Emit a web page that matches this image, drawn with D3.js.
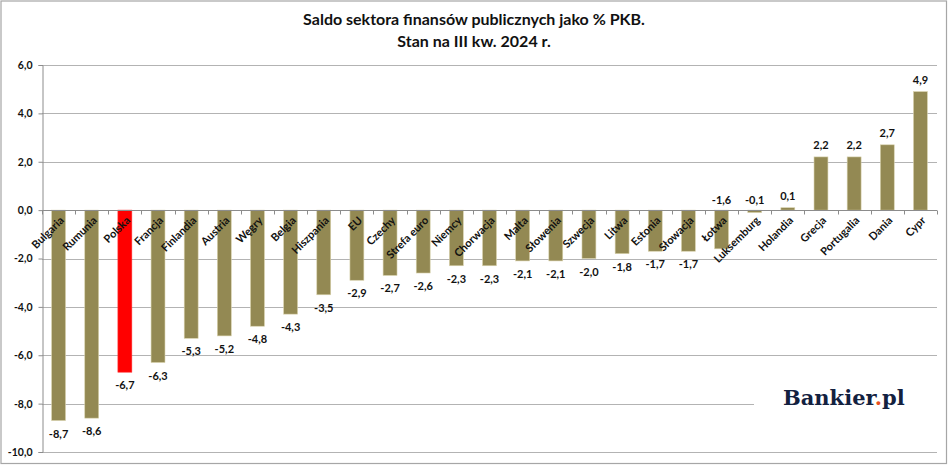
<!DOCTYPE html>
<html>
<head>
<meta charset="utf-8">
<script src="https://cdn.jsdelivr.net/npm/d3@7"></script>
<style>
  body { margin: 0; background: #fff; }
  svg { display: block; font-family: Lato, "Open Sans", sans-serif; }
</style>
</head>
<body>
<svg id="chart" width="948" height="465"></svg>
<script>
// kraje i saldo (% PKB)
const countries = ["Bulgaria", "Rumunia", "Polska", "Francja", "Finlandia", "Austria", "Węgry", "Belgia",
  "Hiszpania", "EU", "Czechy", "Strefa euro", "Niemcy", "Chorwacja", "Malta", "Słowenia", "Szwecja",
  "Litwa", "Estonia", "Słowacja", "Łotwa", "Luksemburg", "Holandia", "Grecja", "Portugalia", "Dania", "Cypr"];
const balance = [-8.7, -8.6, -6.7, -6.3, -5.3, -5.2, -4.8, -4.3, -3.5, -2.9, -2.7, -2.6, -2.3, -2.3,
  -2.1, -2.1, -2.0, -1.8, -1.7, -1.7, -1.6, -0.1, 0.1, 2.2, 2.2, 2.7, 4.9];
const yTicks = [6, 4, 2, 0, -2, -4, -6, -8, -10];
const titleLines = ["Saldo sektora finansów publicznych jako % PKB.", "Stan na III kw. 2024 r."];

const highlight = "Polska";
const labelAbove = new Set(["Łotwa", "Luksemburg"]); // etykiety przesuniete nad os

const data = countries.map((c, i) => ({ name: c, value: balance[i] }));
const fmt = v => d3.format(".1f")(v).replace(".", ",").replace("−", "-");

const svg = d3.select("#chart");
const W = 948, H = 465;
const plotL = 42, plotR = 937, plotT = 65, plotB = 452;
const ink = "#111";

// ramka
svg.append("rect")
  .attr("x", 1).attr("y", 1).attr("width", W - 2.5).attr("height", H - 2.5)
  .attr("fill", "#fff").attr("stroke", "#a6a6a6").attr("stroke-width", 1.2);

// tytul
svg.append("g").selectAll("text").data(titleLines).join("text")
  .attr("x", 474).attr("y", (d, i) => 25 + i * 22)
  .attr("text-anchor", "middle")
  .attr("font-size", 16).attr("font-weight", 700).attr("fill", ink)
  .text(d => d);

const x = d3.scaleBand().domain(countries).range([plotL, plotR])
  .paddingInner(0.58).paddingOuter(0.29);
const y = d3.scaleLinear().domain([-10, 6]).range([plotB, plotT]);

// siatka
svg.append("g").selectAll("line").data(yTicks.filter(t => t !== 0)).join("line")
  .attr("x1", plotL).attr("x2", plotR)
  .attr("y1", d => Math.round(y(d)) + 0.5).attr("y2", d => Math.round(y(d)) + 0.5)
  .attr("stroke", "#b3b3b3").attr("stroke-width", 1);

// os Y
const yAxis = svg.append("g")
  .attr("transform", `translate(${plotL + 0.5},0)`)
  .call(d3.axisLeft(y).tickValues(yTicks).tickSize(4).tickPadding(6).tickFormat(fmt));
yAxis.select(".domain").attr("stroke", "#8c8c8c");
yAxis.selectAll(".tick line").attr("stroke", "#8c8c8c");
yAxis.selectAll(".tick text")
  .attr("font-family", "Lato, sans-serif").attr("font-size", 10.5).attr("font-weight", 700).attr("fill", ink);

// slupki
svg.append("g").selectAll("rect").data(data).join("rect")
  .attr("x", d => x(d.name))
  .attr("width", x.bandwidth())
  .attr("y", d => y(Math.max(0, d.value)))
  .attr("height", d => Math.abs(y(d.value) - y(0)))
  .attr("fill", d => d.name === highlight ? "#ff0000" : "#938953")
  .attr("stroke", d => d.name === highlight ? "#ff3030" : "#d9d2ad")
  .attr("stroke-width", 0.6);

// os X na zerze z podzialka
const y0 = Math.round(y(0)) + 0.5;
svg.append("line")
  .attr("x1", plotL).attr("x2", plotR).attr("y1", y0).attr("y2", y0)
  .attr("stroke", "#8c8c8c");
const bounds = d3.range(countries.length + 1).map(i => plotL + i * x.step());
svg.append("g").selectAll("line").data(bounds).join("line")
  .attr("x1", d => Math.round(d) + 0.5).attr("x2", d => Math.round(d) + 0.5)
  .attr("y1", y0).attr("y2", y0 + 4)
  .attr("stroke", "#8c8c8c");

// etykiety wartosci
svg.append("g").selectAll("text").data(data).join("text")
  .attr("x", d => x(d.name) + x.bandwidth() / 2)
  .attr("y", d => {
    if (labelAbove.has(d.name)) return y(0) - 6;
    return d.value >= 0 ? y(d.value) - 8 : y(d.value) + 17;
  })
  .attr("text-anchor", "middle")
  .attr("font-size", 11).attr("font-weight", 700).attr("fill", ink)
  .text(d => fmt(d.value));

// etykiety kategorii
svg.append("g").selectAll("text").data(data).join("text")
  .attr("transform", d => `translate(${x(d.name) + x.bandwidth() / 2 + 6},${y(0) + 11}) rotate(-45)`)
  .attr("text-anchor", "end")
  .attr("font-size", 11).attr("font-weight", 700).attr("fill", ink)
  .text(d => d.name);

// logo
svg.append("rect").attr("x", 754).attr("y", 386).attr("width", 183).attr("height", 32).attr("fill", "#fff");
const logo = svg.append("text")
  .attr("x", 783).attr("y", 405)
  .attr("font-family", "'DejaVu Serif', 'Liberation Serif', serif")
  .attr("font-size", 21).attr("font-weight", 700).attr("fill", "#13213f");
logo.append("tspan").text("Bankier");
logo.append("tspan").attr("fill", "#e8501e").text(".");
logo.append("tspan").text("pl");
</script>
</body>
</html>
